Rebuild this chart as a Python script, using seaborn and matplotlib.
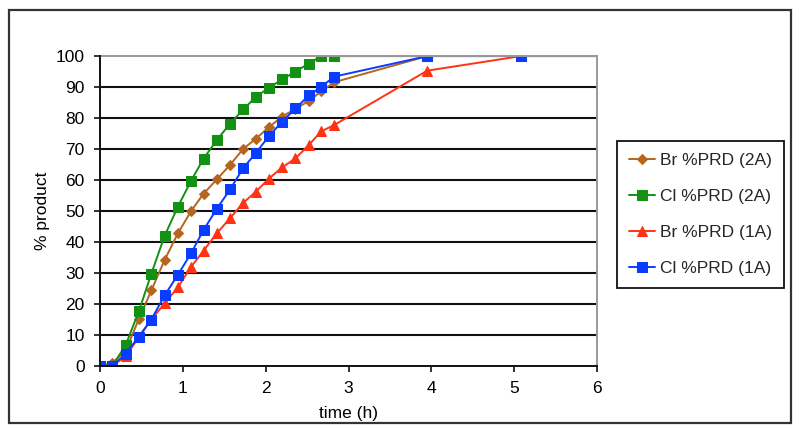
import matplotlib
matplotlib.use("Agg")
import matplotlib.pyplot as plt
import seaborn as sns
import pandas as pd
from matplotlib.patches import Rectangle

# ---- data ----
t_main = [0, 0.15, 0.31, 0.47, 0.62, 0.78, 0.94, 1.10, 1.25, 1.41, 1.57,
          1.73, 1.88, 2.04, 2.20, 2.36, 2.52, 2.67, 2.83]

br_2a_t = t_main + [3.95]
br_2a_y = [0, 1, 5, 15.2, 24.4, 34.2, 42.8, 50.0, 55.6, 60.2, 64.9,
           70.1, 73.3, 77.1, 80.5, 83.0, 85.5, 88.6, 91.6, 100]

cl_2a_t = t_main + [3.95]
cl_2a_y = [0, 0, 6.8, 17.7, 29.8, 42.0, 51.4, 59.8, 66.9, 72.9, 78.2,
           82.8, 86.8, 89.8, 92.5, 95.0, 97.6, 100, 100, 100]

br_1a_t = t_main + [3.95, 5.08]
br_1a_y = [0, 0, 3.2, 9.3, 15.0, 20.2, 25.4, 32.0, 37.2, 42.8, 47.7,
           52.7, 56.2, 60.5, 64.1, 67.0, 71.3, 75.7, 77.8, 95.3, 100]

cl_1a_t = t_main + [3.95, 5.08, 7.0]
cl_1a_y = [0, 0, 4.0, 9.5, 15.0, 22.8, 29.4, 36.4, 43.9, 50.7, 57.0,
           63.9, 68.7, 74.2, 78.9, 83.1, 87.3, 90.1, 93.4, 100, 100, 100]

labels = ["Br %PRD (2A)", "Cl %PRD (2A)", "Br %PRD (1A)", "Cl %PRD (1A)"]
x_ticks = [0, 1, 2, 3, 4, 5, 6]
y_ticks = [0, 10, 20, 30, 40, 50, 60, 70, 80, 90, 100]

series = [
    (labels[0], br_2a_t, br_2a_y, "#B5651D", "D", 5.0),
    (labels[1], cl_2a_t, cl_2a_y, "#129112", "s", 7.0),
    (labels[2], br_1a_t, br_1a_y, "#FF3314", "^", 7.0),
    (labels[3], cl_1a_t, cl_1a_y, "#0A3CFF", "s", 7.0),
]

sns.set_theme(style="white")
plt.rcParams["font.family"] = ["Liberation Sans", "DejaVu Sans"]

FS = 12.5

fig = plt.figure(figsize=(8.0, 4.34), dpi=100)
ax = fig.add_axes([0.125, 0.1567, 0.62125, 0.714])

for name, tx, ty, col, mk, ms in series:
    df = pd.DataFrame({"t": tx, "y": ty})
    sns.lineplot(data=df, x="t", y="y", ax=ax, color=col, marker=mk,
                 markersize=ms, markeredgecolor=col, markerfacecolor=col,
                 linewidth=1.4, sort=False, estimator=None, label=name)

ax.set_xlim(0, 6)
ax.set_ylim(0, 100)
ax.set_xticks(x_ticks)
ax.set_yticks(y_ticks)
ax.set_xticklabels([str(v) for v in x_ticks])
ax.set_yticklabels([str(v) for v in y_ticks])

for v in y_ticks[1:-1]:
    ax.axhline(v, color="#111111", lw=1.5, zorder=0.5)

for s in ["left", "bottom"]:
    ax.spines[s].set_color("#111111")
    ax.spines[s].set_linewidth(1.4)
for s in ["top", "right"]:
    ax.spines[s].set_color("#999999")
    ax.spines[s].set_linewidth(1.4)
ax.spines["left"].set_zorder(3)

ax.tick_params(axis="both", direction="out", length=4, width=1.2,
               color="#111111", labelsize=FS, labelcolor="black", pad=7,
               left=True, bottom=True)

ax.set_xlabel("time (h)", fontsize=FS, color="black")
ax.set_ylabel("% product", fontsize=FS, color="black")
ax.xaxis.set_label_coords(0.5, -0.13)
ax.yaxis.set_label_coords(-0.10, 0.5)

leg = ax.legend(loc="upper left", bbox_to_anchor=(0.771, 0.675),
                bbox_transform=fig.transFigure, fontsize=FS, frameon=True,
                fancybox=False, edgecolor="#111111", framealpha=1,
                labelspacing=1.2, handlelength=1.5, handletextpad=0.3,
                borderpad=0.7, borderaxespad=0)
leg.get_frame().set_linewidth(1.3)

fig.patches.append(Rectangle((9 / 800, 1 - 423 / 434), 782 / 800, 413 / 434,
                             transform=fig.transFigure, fill=False,
                             edgecolor="#333333", linewidth=1.6))

fig.savefig("out.png", dpi=100)
